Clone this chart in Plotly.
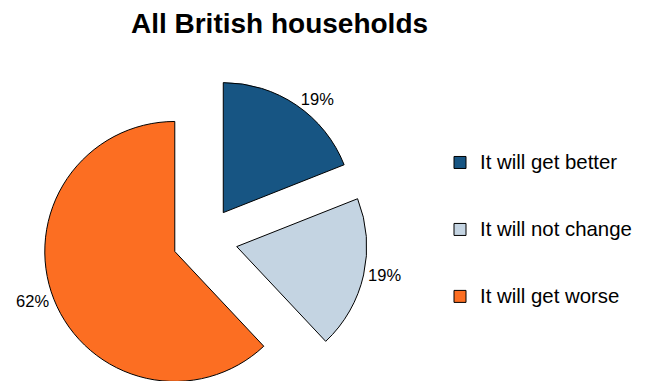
import plotly.graph_objects as go

labels = ["It will get better", "It will not change", "It will get worse"]
values = [19, 19, 62]
colors = ["#175583", "#C4D4E2", "#FC6E22"]
title_text = "All British households"

W, H = 645, 402
legend_labels = ["<br><span style='font-size:20.4px'>" + l + "</span><br> " for l in labels]

fig = go.Figure(go.Pie(
    labels=legend_labels,
    values=values,
    sort=False,
    direction="clockwise",
    rotation=0,
    pull=[0.25, 0.25, 0.25],
    marker=dict(colors=colors, line=dict(color="#000000", width=1)),
    textinfo="percent",
    texttemplate="%{percent:.0%}",
    textposition="outside",
    textfont=dict(family="Liberation Sans, Arial", size=16.5, color="#000000"),
    domain=dict(x=[42.5 / W, 367.5 / W], y=[0, 325 / H]),
    hoverinfo="label+percent",
))

fig.update_layout(
    width=W, height=H,
    margin=dict(l=0, r=0, t=0, b=0, autoexpand=False),
    paper_bgcolor="white",
    plot_bgcolor="white",
    font=dict(family="Liberation Sans, Arial", color="#000000"),
    title=dict(text="<b>" + title_text + "</b>", x=279.5 / W, xanchor="center",
               y=1 - 23 / H, yanchor="middle", yref="container",
               font=dict(size=28, family="Liberation Sans, Arial", color="#000000")),
    legend=dict(x=440 / W, xanchor="left", y=1 - 229.5 / H, yanchor="middle",
                font=dict(size=16.4, family="Liberation Sans, Arial", color="#000000"),
                bgcolor="rgba(0,0,0,0)", valign="middle"),
    showlegend=True,
)

fig.write_html("out.html", post_script="document.body.style.overflow='hidden';document.documentElement.style.overflow='hidden';")
